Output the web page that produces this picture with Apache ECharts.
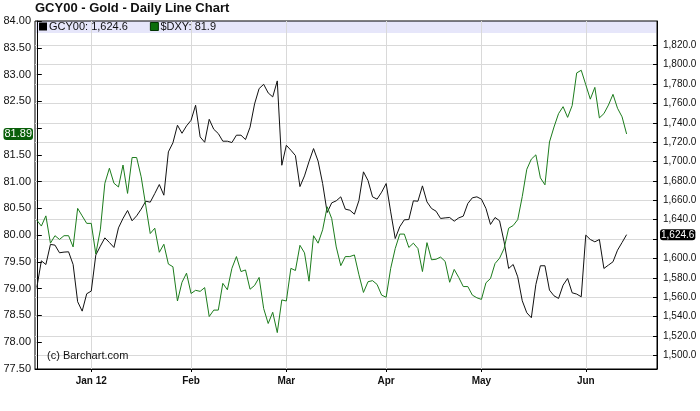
<!DOCTYPE html>
<html><head><meta charset="utf-8">
<script src="https://cdn.jsdelivr.net/npm/echarts@6/dist/echarts.min.js"></script>
<style>html,body{margin:0;padding:0;background:#fff}#c{width:700px;height:411px}</style>
</head><body><div id="c"></div>
<script>
// Gold (GCY00) daily closes, trading-day index 0..130 (right axis)
const gold = [1570.1,1597.6,1593.8,1614.5,1613.8,1605.9,1606.6,1606.9,1593.8,1555.4,
1545.7,1563.6,1566.4,1603.5,1612.7,1621.3,1616.5,1611.4,1631.6,1641.3,
1649.5,1638.9,1644.0,1650.9,1659.1,1658.1,1667.0,1676.3,1665.3,1710.0,
1719.3,1737.5,1729.2,1736.8,1742.6,1758.1,1725.4,1719.9,1743.6,1733.3,
1728.9,1721.0,1721.0,1719.6,1727.2,1727.2,1722.7,1735.4,1759.5,1775.3,
1779.7,1770.8,1766.7,1783.2,1696.2,1716.8,1711.7,1706.2,1674.2,1685.2,
1700.0,1713.4,1700.4,1677.3,1647.4,1657.4,1659.5,1663.6,1650.9,1649.8,
1645.7,1659.8,1689.4,1680.4,1663.6,1661.2,1668.4,1677.3,1648.1,1620.6,
1632.7,1639.9,1640.2,1659.5,1659.1,1674.9,1658.4,1651.6,1648.8,1641.3,
1641.9,1642.3,1638.5,1641.9,1643.7,1656.7,1662.6,1663.6,1661.2,1651.6,
1635.1,1642.3,1638.9,1617.2,1589.7,1593.8,1581.1,1556.4,1544.0,1538.9,
1573.2,1592.5,1592.5,1567.4,1561.5,1558.8,1572.5,1579.4,1564.6,1563.3,
1560.5,1624.1,1619.6,1617.2,1619.6,1589.7,1593.2,1596.6,1608.6,1616.5,
1624.6];
// US Dollar Index ($DXY) daily closes (left axis)
const dxy = [80.28,80.17,80.36,79.85,79.99,79.92,79.99,79.99,79.78,80.50,
80.36,80.22,80.22,79.65,80.10,80.97,81.25,80.97,80.90,81.31,
80.78,81.45,81.45,81.09,80.56,80.03,80.13,79.68,79.83,79.46,
79.41,78.77,79.12,79.29,78.91,78.97,78.95,79.02,78.48,78.60,
78.60,79.10,78.98,79.38,79.60,79.32,79.35,78.99,79.06,79.21,
78.63,78.35,78.56,78.18,78.79,78.77,79.38,79.34,79.81,79.67,
79.14,79.99,79.85,80.10,80.53,80.31,79.78,79.43,79.60,79.60,
79.63,79.26,78.93,79.13,79.15,79.08,78.88,78.84,79.38,79.75,
80.02,80.02,79.77,79.85,79.75,79.32,79.86,79.54,79.55,79.59,
79.51,79.12,79.36,79.21,79.04,79.04,78.88,78.83,78.80,79.11,
79.19,79.47,79.57,79.75,80.13,80.18,80.29,80.72,81.23,81.42,
81.50,81.07,80.94,81.74,82.02,82.27,82.40,82.20,82.42,83.03,
83.08,82.81,82.54,82.76,82.19,82.27,82.43,82.63,82.37,82.21,
81.89];
const monthTickIndex = [12, 34, 55, 77, 98, 121];
const monthTickLabels = ['Jan 12', 'Feb', 'Mar', 'Apr', 'May', 'Jun'];
const rightTickValues = [1500,1520,1540,1560,1580,1600,1620,1640,1660,1680,1700,1720,1740,1760,1780,1800,1820];
const goldLast = 1624.6;
const dxyLast = 81.89;

function fmt(v, d) {
  const s = v.toFixed(d).split('.');
  s[0] = s[0].replace(/\B(?=(\d{3})+(?!\d))/g, ',');
  return s.join('.');
}
const FONT = "'Liberation Sans', Arial, sans-serif";

const chart = echarts.init(document.getElementById('c'), null, {renderer: 'canvas'});
chart.setOption({
  animation: false,
  backgroundColor: '#fff',
  title: [
    {text: 'GCY00 - Gold - Daily Line Chart', left: 35, top: 2, padding: 0,
     textStyle: {fontSize: 13, fontWeight: 'bold', color: '#111', fontFamily: FONT}},
    {text: '(c) Barchart.com', left: 47, top: 350, padding: 0,
     textStyle: {fontSize: 11, fontWeight: 'normal', color: '#111', fontFamily: FONT}}
  ],
  graphic: [{type: 'rect', z: -10, shape: {x: 36, y: 21, width: 620, height: 12}, style: {fill: '#e6e6fa'}}],
  legend: {
    left: 39, top: 21, padding: 0, itemWidth: 8, itemHeight: 8, itemGap: 22, icon: 'rect',
    textStyle: {fontSize: 11, color: '#111', fontFamily: FONT, padding: [1, 0, 0, -3]},
    data: [
      {name: 'GCY00', itemStyle: {color: '#000'}},
      {name: '$DXY', itemStyle: {color: '#0b6e0b', borderColor: '#003300', borderWidth: 1}}
    ],
    formatter: n => n === 'GCY00' ? 'GCY00: ' + fmt(goldLast, 1) : '$DXY: ' + dxyLast.toFixed(1)
  },
  axisPointer: {triggerOn: 'none'},
  grid: {left: 35, right: 43, top: 21, bottom: 42, show: true, borderColor: '#000', borderWidth: 1, backgroundColor: 'transparent'},
  xAxis: {
    type: 'value', min: -0.4, max: 136.7,
    axisLine: {show: true, lineStyle: {color: '#000'}},
    axisTick: {show: true, length: 3, customValues: monthTickIndex, lineStyle: {color: '#000'}},
    axisLabel: {customValues: monthTickIndex, margin: 7, fontSize: 10, fontWeight: 'bold', color: '#111', fontFamily: FONT,
      formatter: v => monthTickLabels[monthTickIndex.indexOf(Math.round(v))] || ''},
    splitLine: {show: true, lineStyle: {color: '#d9d9d9', width: 1}}
  },
  yAxis: [
    {
      type: 'value', position: 'left', min: 77.5, max: 84, interval: 0.5,
      axisLine: {show: true, lineStyle: {color: '#000'}},
      axisTick: {show: true, inside: true, length: 5, lineStyle: {color: '#000'}},
      axisLabel: {fontSize: 11, color: '#111', margin: 4, fontFamily: FONT,
        formatter: v => Math.abs(v - 82) < 1e-6 ? '' : v.toFixed(2)},
      splitLine: {show: false},
      axisPointer: {show: true, type: 'none', value: dxyLast, status: 'show', triggerTooltip: false,
        label: {show: true, backgroundColor: '#0a5f0a', color: '#fff', fontSize: 11, padding: [1, 1, 0, 1], margin: 2,
          fontFamily: FONT, formatter: p => (+p.value).toFixed(2)}}
    },
    {
      type: 'value', position: 'right', min: 1486, max: 1845,
      axisLine: {show: true, lineStyle: {color: '#000'}},
      axisTick: {show: true, inside: true, length: 4, customValues: rightTickValues, lineStyle: {color: '#000'}},
      axisLabel: {customValues: rightTickValues, fontSize: 10, color: '#111', margin: 6, fontFamily: FONT,
        formatter: v => Math.abs(v - 1620) < 1e-6 ? '' : fmt(v, 1)},
      splitLine: {show: true, lineStyle: {color: '#d9d9d9', width: 1}},
      axisPointer: {show: true, type: 'none', value: goldLast, status: 'show', triggerTooltip: false,
        label: {show: true, backgroundColor: '#000', color: '#fff', fontSize: 10, padding: [1, 1, 0, 1], margin: 3,
          fontFamily: FONT, formatter: p => fmt(+p.value, 1)}}
    }
  ],
  series: [
    {name: 'GCY00', type: 'line', yAxisIndex: 1, showSymbol: false, silent: true,
     data: gold.map((v, i) => [i, v]), lineStyle: {color: '#111', width: 1}, itemStyle: {color: '#000'}},
    {name: '$DXY', type: 'line', yAxisIndex: 0, showSymbol: false, silent: true,
     data: dxy.map((v, i) => [i, v]), lineStyle: {color: '#1c7c1c', width: 1}, itemStyle: {color: '#0b6e0b'}}
  ]
});
</script></body></html>
